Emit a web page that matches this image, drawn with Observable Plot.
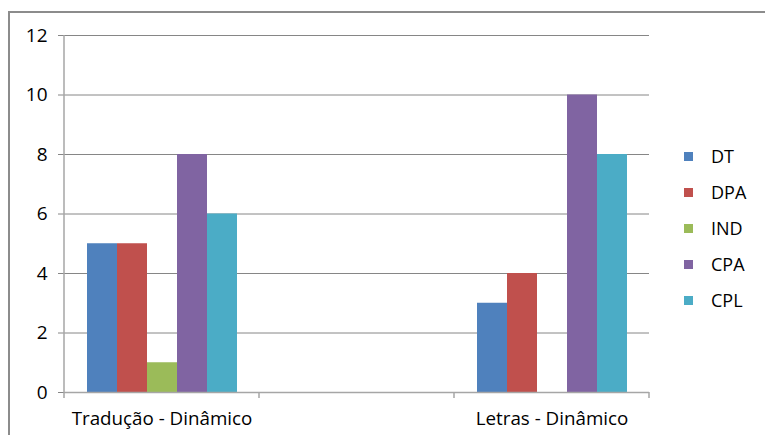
<!DOCTYPE html>
<html>
<head>
<meta charset="utf-8">
<script src="https://cdn.jsdelivr.net/npm/d3@7"></script>
<script src="https://cdn.jsdelivr.net/npm/@observablehq/plot@0.6"></script>
<style>
  body { margin: 0; background: #fff; }
  #wrap { position: relative; width: 765px; height: 435px; overflow: hidden; font-family: "Open Sans", sans-serif; }
  #border { position: absolute; left: 8px; top: 11px; width: 900px; height: 600px;
            border-left: 2px solid #8c8c8c; border-top: 2px solid #8c8c8c; pointer-events: none; }
  #chart { position: absolute; left: 0; top: 0; }
  #legend { position: absolute; left: 684px; top: 138px; }
  .item { display: flex; align-items: center; height: 36px; font-size: 18px; color: #000; }
  .sw { width: 9px; height: 9px; margin-right: 18px; }
</style>
</head>
<body>
<div id="wrap">
  <div id="chart"></div>
  <div id="border"></div>
  <div id="legend"></div>
</div>
<script>
// Categories (the middle slot is an unnamed, empty group)
const categories = ["Tradução - Dinâmico", " ", "Letras - Dinâmico"];
const series = ["DT", "DPA", "IND", "CPA", "CPL"];
const colors = ["#4F81BD", "#C0504D", "#9BBB59", "#8064A2", "#4BACC6"];
const traducaoValues = [5, 5, 1, 8, 6];
const letrasValues = [3, 4, 0, 10, 8];
const yTicks = [0, 2, 4, 6, 8, 10, 12];

const rows = [
  ...series.map((s, i) => ({category: categories[0], series: s, value: traducaoValues[i]})),
  ...series.map((s, i) => ({category: categories[2], series: s, value: letrasValues[i]}))
];

// Horizontal gridlines drawn in every group, so the empty group keeps its slot
const gridRows = categories.flatMap(c => yTicks.filter(t => t > 0).map(t => ({category: c, tick: t})));
const baseRows = categories.map(c => ({category: c}));

const chart = Plot.plot({
  width: 765,
  height: 435,
  marginLeft: 63,
  marginRight: 115,
  marginTop: 35,
  marginBottom: 43,
  style: {fontFamily: "Open Sans, sans-serif", fontSize: "18px", color: "#000", background: "transparent", overflow: "visible"},
  fx: {domain: categories, padding: 0, label: null, axis: null},
  x: {domain: series, paddingInner: 0, paddingOuter: 0.75, axis: null},
  y: {domain: [0, 12], label: null, axis: null},
  color: {domain: series, range: colors},
  marks: [
    Plot.ruleY(gridRows, {fx: "category", y: "tick", stroke: "#868686", strokeWidth: 1}),
    Plot.axisY(yTicks, {tickSize: 6, tickPadding: 11, stroke: "#868686", fill: "#000", label: null, fontSize: 19}),
    Plot.axisFx({tickSize: 0, tickPadding: 19, label: null, fontSize: 18.8, fill: "#000", anchor: "bottom"}),
    Plot.barY(rows, {fx: "category", x: "series", y: "value", fill: "series"}),
    Plot.ruleY(baseRows, {fx: "category", y: () => 0, stroke: "#a6a6a6", strokeWidth: 1.5})
  ]
});

// Left axis line and tick marks between the category groups
const fx = chart.scale("fx");
const y = chart.scale("y");
const svg = d3.select(chart.tagName.toLowerCase() === "svg" ? chart : chart.querySelector("svg"));
const y0 = y.apply(0);
const bounds = categories.map(c => fx.apply(c)).concat([fx.apply(categories[categories.length - 1]) + fx.bandwidth]);
const g = svg.append("g").attr("stroke", "#a6a6a6").attr("stroke-width", 1.5);
g.append("line")
  .attr("x1", bounds[0]).attr("x2", bounds[0])
  .attr("y1", y.apply(12)).attr("y2", y0);
g.selectAll(".tick").data(bounds).join("line")
  .attr("x1", d => d).attr("x2", d => d)
  .attr("y1", y0).attr("y2", y0 + 6);

document.getElementById("chart").appendChild(chart);

// Legend
const legend = d3.select("#legend");
series.forEach((s, i) => {
  const item = legend.append("div").attr("class", "item");
  item.append("div").attr("class", "sw").style("background", colors[i]);
  item.append("span").text(s);
});
</script>
</body>
</html>
